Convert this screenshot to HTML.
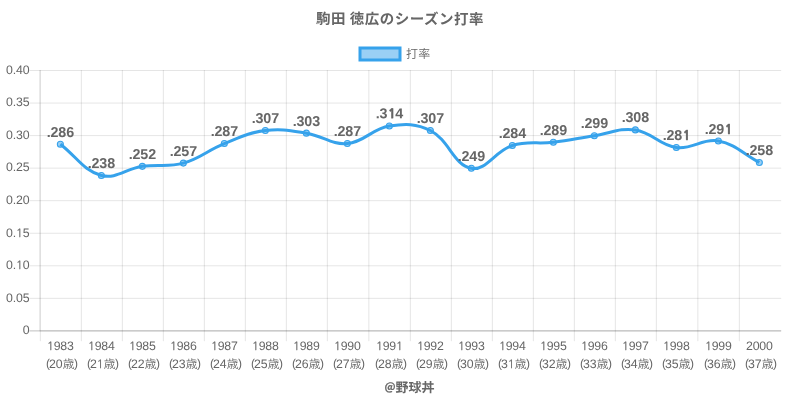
<!DOCTYPE html>
<html lang="ja"><head><meta charset="utf-8"><title>駒田 徳広のシーズン打率</title>
<style>
html,body{margin:0;padding:0;background:#fff;}
body{width:800px;height:400px;overflow:hidden;}
svg{display:block;font-family:"Liberation Sans","Noto Sans CJK JP",sans-serif;}
text{fill:#666;}
.t{font-size:12.3px;letter-spacing:-0.17px;}
.p{font-size:12px;letter-spacing:0;}
.k{font-size:11.8px;font-weight:350;letter-spacing:0;}
.dl{font-size:14.3px;font-weight:bold;letter-spacing:-0.17px;}
.b{font-weight:bold;}
.o{font-family:"NanumGothic","Liberation Sans",sans-serif;font-size:11.3px;font-weight:400;letter-spacing:0;stroke:#666;stroke-width:0.2px;}
.ob{font-family:"NanumGothic","Liberation Sans",sans-serif;font-size:13px;font-weight:800;letter-spacing:0;stroke:#666;stroke-width:0.3px;}
.at{font-family:"Noto Sans CJK JP","Liberation Sans",sans-serif;font-size:11px;font-weight:bold;stroke:#666;stroke-width:0.2px;}
</style></head><body>
<svg width="800" height="400" viewBox="0 0 800 400">
<rect width="800" height="400" fill="#fff"/>
<!-- title -->
<text transform="translate(400.1 24) matrix(1 0.003 0 1 0 0)" class="b" text-anchor="middle" style="font-size:14.5px;letter-spacing:0.5px;word-spacing:-0.8px;">駒田 徳広のシーズン打率</text>
<!-- legend -->
<rect x="360" y="48" width="40" height="12" fill="rgba(54,162,235,0.5)" stroke="rgb(54,162,235)" stroke-width="3"/>
<text transform="translate(406.1 58) matrix(1 0.003 0 1 0 0)" style="font-size:12px;font-weight:350;letter-spacing:0.1px;">打率</text>
<!-- grid -->
<g stroke-width="1">
<line x1="29.35" y1="70.50" x2="781.20" y2="70.50" stroke="rgba(0,0,0,0.1)"/>
<line x1="29.35" y1="103.05" x2="781.20" y2="103.05" stroke="rgba(0,0,0,0.1)"/>
<line x1="29.35" y1="135.60" x2="781.20" y2="135.60" stroke="rgba(0,0,0,0.1)"/>
<line x1="29.35" y1="168.15" x2="781.20" y2="168.15" stroke="rgba(0,0,0,0.1)"/>
<line x1="29.35" y1="200.70" x2="781.20" y2="200.70" stroke="rgba(0,0,0,0.1)"/>
<line x1="29.35" y1="233.25" x2="781.20" y2="233.25" stroke="rgba(0,0,0,0.1)"/>
<line x1="29.35" y1="265.80" x2="781.20" y2="265.80" stroke="rgba(0,0,0,0.1)"/>
<line x1="29.35" y1="298.35" x2="781.20" y2="298.35" stroke="rgba(0,0,0,0.1)"/>
<line x1="29.35" y1="330.90" x2="781.20" y2="330.90" stroke="rgba(0,0,0,0.25)"/>
<line x1="40.35" y1="70.00" x2="40.35" y2="341.20" stroke="rgba(0,0,0,0.1)"/>
<line x1="81.35" y1="70.00" x2="81.35" y2="341.20" stroke="rgba(0,0,0,0.1)"/>
<line x1="122.35" y1="70.00" x2="122.35" y2="341.20" stroke="rgba(0,0,0,0.1)"/>
<line x1="163.35" y1="70.00" x2="163.35" y2="341.20" stroke="rgba(0,0,0,0.1)"/>
<line x1="204.35" y1="70.00" x2="204.35" y2="341.20" stroke="rgba(0,0,0,0.1)"/>
<line x1="245.35" y1="70.00" x2="245.35" y2="341.20" stroke="rgba(0,0,0,0.1)"/>
<line x1="286.35" y1="70.00" x2="286.35" y2="341.20" stroke="rgba(0,0,0,0.1)"/>
<line x1="327.35" y1="70.00" x2="327.35" y2="341.20" stroke="rgba(0,0,0,0.1)"/>
<line x1="368.85" y1="70.00" x2="368.85" y2="341.20" stroke="rgba(0,0,0,0.1)"/>
<line x1="410.35" y1="70.00" x2="410.35" y2="341.20" stroke="rgba(0,0,0,0.1)"/>
<line x1="451.35" y1="70.00" x2="451.35" y2="341.20" stroke="rgba(0,0,0,0.1)"/>
<line x1="492.35" y1="70.00" x2="492.35" y2="341.20" stroke="rgba(0,0,0,0.1)"/>
<line x1="533.35" y1="70.00" x2="533.35" y2="341.20" stroke="rgba(0,0,0,0.1)"/>
<line x1="574.35" y1="70.00" x2="574.35" y2="341.20" stroke="rgba(0,0,0,0.1)"/>
<line x1="615.35" y1="70.00" x2="615.35" y2="341.20" stroke="rgba(0,0,0,0.1)"/>
<line x1="656.35" y1="70.00" x2="656.35" y2="341.20" stroke="rgba(0,0,0,0.1)"/>
<line x1="697.85" y1="70.00" x2="697.85" y2="341.20" stroke="rgba(0,0,0,0.1)"/>
<line x1="739.35" y1="70.00" x2="739.35" y2="341.20" stroke="rgba(0,0,0,0.1)"/>
<line x1="39.85" y1="70.00" x2="39.85" y2="330.40" stroke="rgba(0,0,0,0.1)"/>
<line x1="39.35" y1="330.90" x2="781.20" y2="330.90" stroke="rgba(0,0,0,0.1)"/>
</g>
<!-- y axis labels -->
<text transform="translate(29.35 74) matrix(1 0.003 0 1 0 0)" class="t" text-anchor="end">0.40</text>
<text transform="translate(29.35 106) matrix(1 0.003 0 1 0 0)" class="t" text-anchor="end">0.35</text>
<text transform="translate(29.35 139) matrix(1 0.003 0 1 0 0)" class="t" text-anchor="end">0.30</text>
<text transform="translate(29.35 171) matrix(1 0.003 0 1 0 0)" class="t" text-anchor="end">0.25</text>
<text transform="translate(29.35 204) matrix(1 0.003 0 1 0 0)" class="t" text-anchor="end">0.20</text>
<text transform="translate(29.35 237) matrix(1 0.003 0 1 0 0)" class="t" text-anchor="end">0.<tspan class="o">1</tspan><tspan dx="-0.18">5</tspan></text>
<text transform="translate(29.35 269) matrix(1 0.003 0 1 0 0)" class="t" text-anchor="end">0.<tspan class="o">1</tspan><tspan dx="-0.18">0</tspan></text>
<text transform="translate(29.35 302) matrix(1 0.003 0 1 0 0)" class="t" text-anchor="end">0.05</text>
<text transform="translate(29.35 334) matrix(1 0.003 0 1 0 0)" class="t" text-anchor="end">0</text>
<!-- x axis labels -->
<text transform="translate(60.35 350) matrix(1 0.003 0 1 0 0)" class="t" text-anchor="middle"><tspan class="o">1</tspan><tspan dx="-0.18">9</tspan>83</text>
<text transform="translate(45.88 368) matrix(1 0.003 0 1 0 0)" class="t"><tspan class="p" dy="-0.6">(</tspan><tspan dx="-0.8" dy="0.6">20</tspan><tspan class="k" dx="0.35">歳</tspan><tspan class="p" dx="-0.6" dy="-0.6">)</tspan></text>
<text transform="translate(101.35 350) matrix(1 0.003 0 1 0 0)" class="t" text-anchor="middle"><tspan class="o">1</tspan><tspan dx="-0.18">9</tspan>84</text>
<text transform="translate(86.88 368) matrix(1 0.003 0 1 0 0)" class="t"><tspan class="p" dy="-0.6">(</tspan><tspan dx="-0.8" dy="0.6">2<tspan class="o">1</tspan></tspan><tspan class="k" dx="0.17">歳</tspan><tspan class="p" dx="-0.6" dy="-0.6">)</tspan></text>
<text transform="translate(142.35 350) matrix(1 0.003 0 1 0 0)" class="t" text-anchor="middle"><tspan class="o">1</tspan><tspan dx="-0.18">9</tspan>85</text>
<text transform="translate(127.88 368) matrix(1 0.003 0 1 0 0)" class="t"><tspan class="p" dy="-0.6">(</tspan><tspan dx="-0.8" dy="0.6">22</tspan><tspan class="k" dx="0.35">歳</tspan><tspan class="p" dx="-0.6" dy="-0.6">)</tspan></text>
<text transform="translate(183.35 350) matrix(1 0.003 0 1 0 0)" class="t" text-anchor="middle"><tspan class="o">1</tspan><tspan dx="-0.18">9</tspan>86</text>
<text transform="translate(168.88 368) matrix(1 0.003 0 1 0 0)" class="t"><tspan class="p" dy="-0.6">(</tspan><tspan dx="-0.8" dy="0.6">23</tspan><tspan class="k" dx="0.35">歳</tspan><tspan class="p" dx="-0.6" dy="-0.6">)</tspan></text>
<text transform="translate(224.35 350) matrix(1 0.003 0 1 0 0)" class="t" text-anchor="middle"><tspan class="o">1</tspan><tspan dx="-0.18">9</tspan>87</text>
<text transform="translate(209.88 368) matrix(1 0.003 0 1 0 0)" class="t"><tspan class="p" dy="-0.6">(</tspan><tspan dx="-0.8" dy="0.6">24</tspan><tspan class="k" dx="0.35">歳</tspan><tspan class="p" dx="-0.6" dy="-0.6">)</tspan></text>
<text transform="translate(265.35 350) matrix(1 0.003 0 1 0 0)" class="t" text-anchor="middle"><tspan class="o">1</tspan><tspan dx="-0.18">9</tspan>88</text>
<text transform="translate(250.88 368) matrix(1 0.003 0 1 0 0)" class="t"><tspan class="p" dy="-0.6">(</tspan><tspan dx="-0.8" dy="0.6">25</tspan><tspan class="k" dx="0.35">歳</tspan><tspan class="p" dx="-0.6" dy="-0.6">)</tspan></text>
<text transform="translate(306.35 350) matrix(1 0.003 0 1 0 0)" class="t" text-anchor="middle"><tspan class="o">1</tspan><tspan dx="-0.18">9</tspan>89</text>
<text transform="translate(291.88 368) matrix(1 0.003 0 1 0 0)" class="t"><tspan class="p" dy="-0.6">(</tspan><tspan dx="-0.8" dy="0.6">26</tspan><tspan class="k" dx="0.35">歳</tspan><tspan class="p" dx="-0.6" dy="-0.6">)</tspan></text>
<text transform="translate(347.35 350) matrix(1 0.003 0 1 0 0)" class="t" text-anchor="middle"><tspan class="o">1</tspan><tspan dx="-0.18">9</tspan>90</text>
<text transform="translate(332.88 368) matrix(1 0.003 0 1 0 0)" class="t"><tspan class="p" dy="-0.6">(</tspan><tspan dx="-0.8" dy="0.6">27</tspan><tspan class="k" dx="0.35">歳</tspan><tspan class="p" dx="-0.6" dy="-0.6">)</tspan></text>
<text transform="translate(389.44 350) matrix(1 0.003 0 1 0 0)" class="t" text-anchor="middle"><tspan class="o">1</tspan><tspan dx="-0.18">9</tspan>9<tspan class="o">1</tspan></text>
<text transform="translate(374.88 368) matrix(1 0.003 0 1 0 0)" class="t"><tspan class="p" dy="-0.6">(</tspan><tspan dx="-0.8" dy="0.6">28</tspan><tspan class="k" dx="0.35">歳</tspan><tspan class="p" dx="-0.6" dy="-0.6">)</tspan></text>
<text transform="translate(430.35 350) matrix(1 0.003 0 1 0 0)" class="t" text-anchor="middle"><tspan class="o">1</tspan><tspan dx="-0.18">9</tspan>92</text>
<text transform="translate(415.88 368) matrix(1 0.003 0 1 0 0)" class="t"><tspan class="p" dy="-0.6">(</tspan><tspan dx="-0.8" dy="0.6">29</tspan><tspan class="k" dx="0.35">歳</tspan><tspan class="p" dx="-0.6" dy="-0.6">)</tspan></text>
<text transform="translate(471.35 350) matrix(1 0.003 0 1 0 0)" class="t" text-anchor="middle"><tspan class="o">1</tspan><tspan dx="-0.18">9</tspan>93</text>
<text transform="translate(456.88 368) matrix(1 0.003 0 1 0 0)" class="t"><tspan class="p" dy="-0.6">(</tspan><tspan dx="-0.8" dy="0.6">30</tspan><tspan class="k" dx="0.35">歳</tspan><tspan class="p" dx="-0.6" dy="-0.6">)</tspan></text>
<text transform="translate(512.35 350) matrix(1 0.003 0 1 0 0)" class="t" text-anchor="middle"><tspan class="o">1</tspan><tspan dx="-0.18">9</tspan>94</text>
<text transform="translate(497.88 368) matrix(1 0.003 0 1 0 0)" class="t"><tspan class="p" dy="-0.6">(</tspan><tspan dx="-0.8" dy="0.6">3<tspan class="o">1</tspan></tspan><tspan class="k" dx="0.17">歳</tspan><tspan class="p" dx="-0.6" dy="-0.6">)</tspan></text>
<text transform="translate(553.35 350) matrix(1 0.003 0 1 0 0)" class="t" text-anchor="middle"><tspan class="o">1</tspan><tspan dx="-0.18">9</tspan>95</text>
<text transform="translate(538.88 368) matrix(1 0.003 0 1 0 0)" class="t"><tspan class="p" dy="-0.6">(</tspan><tspan dx="-0.8" dy="0.6">32</tspan><tspan class="k" dx="0.35">歳</tspan><tspan class="p" dx="-0.6" dy="-0.6">)</tspan></text>
<text transform="translate(594.35 350) matrix(1 0.003 0 1 0 0)" class="t" text-anchor="middle"><tspan class="o">1</tspan><tspan dx="-0.18">9</tspan>96</text>
<text transform="translate(579.88 368) matrix(1 0.003 0 1 0 0)" class="t"><tspan class="p" dy="-0.6">(</tspan><tspan dx="-0.8" dy="0.6">33</tspan><tspan class="k" dx="0.35">歳</tspan><tspan class="p" dx="-0.6" dy="-0.6">)</tspan></text>
<text transform="translate(635.35 350) matrix(1 0.003 0 1 0 0)" class="t" text-anchor="middle"><tspan class="o">1</tspan><tspan dx="-0.18">9</tspan>97</text>
<text transform="translate(620.88 368) matrix(1 0.003 0 1 0 0)" class="t"><tspan class="p" dy="-0.6">(</tspan><tspan dx="-0.8" dy="0.6">34</tspan><tspan class="k" dx="0.35">歳</tspan><tspan class="p" dx="-0.6" dy="-0.6">)</tspan></text>
<text transform="translate(676.35 350) matrix(1 0.003 0 1 0 0)" class="t" text-anchor="middle"><tspan class="o">1</tspan><tspan dx="-0.18">9</tspan>98</text>
<text transform="translate(661.88 368) matrix(1 0.003 0 1 0 0)" class="t"><tspan class="p" dy="-0.6">(</tspan><tspan dx="-0.8" dy="0.6">35</tspan><tspan class="k" dx="0.35">歳</tspan><tspan class="p" dx="-0.6" dy="-0.6">)</tspan></text>
<text transform="translate(718.35 350) matrix(1 0.003 0 1 0 0)" class="t" text-anchor="middle"><tspan class="o">1</tspan><tspan dx="-0.18">9</tspan>99</text>
<text transform="translate(703.88 368) matrix(1 0.003 0 1 0 0)" class="t"><tspan class="p" dy="-0.6">(</tspan><tspan dx="-0.8" dy="0.6">36</tspan><tspan class="k" dx="0.35">歳</tspan><tspan class="p" dx="-0.6" dy="-0.6">)</tspan></text>
<text transform="translate(759.35 350) matrix(1 0.003 0 1 0 0)" class="t" text-anchor="middle">2000</text>
<text transform="translate(744.88 368) matrix(1 0.003 0 1 0 0)" class="t"><tspan class="p" dy="-0.6">(</tspan><tspan dx="-0.8" dy="0.6">37</tspan><tspan class="k" dx="0.35">歳</tspan><tspan class="p" dx="-0.6" dy="-0.6">)</tspan></text>
<!-- x axis title -->
<text transform="translate(384.5 390.4) matrix(1 0.003 0 1 0 0)" class="at">@</text>
<text transform="translate(395.5 392) matrix(1 0.003 0 1 0 0)" class="b" style="font-size:13px;">野球丼</text>
<!-- line + points -->
<path d="M60.35 144.21 C76.75 156.71 83.28 170.58 101.35 175.46 C116.08 179.44 125.78 168.85 142.35 166.35 C158.58 163.90 167.76 167.42 183.35 163.09 C200.56 158.31 207.51 150.25 224.35 143.56 C240.31 137.23 248.57 132.67 265.35 130.54 C281.37 128.51 290.19 130.58 306.35 133.15 C322.99 135.79 331.36 144.94 347.35 143.56 C364.56 142.08 371.93 128.72 389.35 125.99 C405.13 123.51 416.40 123.34 430.35 130.54 C449.20 140.27 453.54 165.05 471.35 168.30 C486.34 171.04 494.87 151.07 512.35 145.52 C527.67 140.65 537.03 144.20 553.35 142.26 C569.83 140.30 577.93 138.23 594.35 135.75 C610.73 133.28 619.56 127.64 635.35 129.89 C652.36 132.32 659.35 145.20 676.35 147.47 C692.55 149.63 702.46 138.09 718.35 140.96 C735.66 144.08 742.95 153.85 759.35 162.44" fill="none" stroke="rgb(54,162,235)" stroke-width="3" stroke-linejoin="miter" stroke-linecap="butt"/>
<circle cx="60.35" cy="144.21" r="3" fill="rgba(54,162,235,0.5)" stroke="rgb(54,162,235)" stroke-width="1.1"/>
<circle cx="101.35" cy="175.46" r="3" fill="rgba(54,162,235,0.5)" stroke="rgb(54,162,235)" stroke-width="1.1"/>
<circle cx="142.35" cy="166.35" r="3" fill="rgba(54,162,235,0.5)" stroke="rgb(54,162,235)" stroke-width="1.1"/>
<circle cx="183.35" cy="163.09" r="3" fill="rgba(54,162,235,0.5)" stroke="rgb(54,162,235)" stroke-width="1.1"/>
<circle cx="224.35" cy="143.56" r="3" fill="rgba(54,162,235,0.5)" stroke="rgb(54,162,235)" stroke-width="1.1"/>
<circle cx="265.35" cy="130.54" r="3" fill="rgba(54,162,235,0.5)" stroke="rgb(54,162,235)" stroke-width="1.1"/>
<circle cx="306.35" cy="133.15" r="3" fill="rgba(54,162,235,0.5)" stroke="rgb(54,162,235)" stroke-width="1.1"/>
<circle cx="347.35" cy="143.56" r="3" fill="rgba(54,162,235,0.5)" stroke="rgb(54,162,235)" stroke-width="1.1"/>
<circle cx="389.35" cy="125.99" r="3" fill="rgba(54,162,235,0.5)" stroke="rgb(54,162,235)" stroke-width="1.1"/>
<circle cx="430.35" cy="130.54" r="3" fill="rgba(54,162,235,0.5)" stroke="rgb(54,162,235)" stroke-width="1.1"/>
<circle cx="471.35" cy="168.30" r="3" fill="rgba(54,162,235,0.5)" stroke="rgb(54,162,235)" stroke-width="1.1"/>
<circle cx="512.35" cy="145.52" r="3" fill="rgba(54,162,235,0.5)" stroke="rgb(54,162,235)" stroke-width="1.1"/>
<circle cx="553.35" cy="142.26" r="3" fill="rgba(54,162,235,0.5)" stroke="rgb(54,162,235)" stroke-width="1.1"/>
<circle cx="594.35" cy="135.75" r="3" fill="rgba(54,162,235,0.5)" stroke="rgb(54,162,235)" stroke-width="1.1"/>
<circle cx="635.35" cy="129.89" r="3" fill="rgba(54,162,235,0.5)" stroke="rgb(54,162,235)" stroke-width="1.1"/>
<circle cx="676.35" cy="147.47" r="3" fill="rgba(54,162,235,0.5)" stroke="rgb(54,162,235)" stroke-width="1.1"/>
<circle cx="718.35" cy="140.96" r="3" fill="rgba(54,162,235,0.5)" stroke="rgb(54,162,235)" stroke-width="1.1"/>
<circle cx="759.35" cy="162.44" r="3" fill="rgba(54,162,235,0.5)" stroke="rgb(54,162,235)" stroke-width="1.1"/>
<!-- data labels -->
<text transform="translate(60.35 137) matrix(1 0.003 0 1 0 0)" class="dl" text-anchor="middle">.286</text>
<text transform="translate(101.35 168) matrix(1 0.003 0 1 0 0)" class="dl" text-anchor="middle">.238</text>
<text transform="translate(142.35 159) matrix(1 0.003 0 1 0 0)" class="dl" text-anchor="middle">.252</text>
<text transform="translate(183.35 156) matrix(1 0.003 0 1 0 0)" class="dl" text-anchor="middle">.257</text>
<text transform="translate(224.35 136) matrix(1 0.003 0 1 0 0)" class="dl" text-anchor="middle">.287</text>
<text transform="translate(265.35 123) matrix(1 0.003 0 1 0 0)" class="dl" text-anchor="middle">.307</text>
<text transform="translate(306.35 126) matrix(1 0.003 0 1 0 0)" class="dl" text-anchor="middle">.303</text>
<text transform="translate(347.35 136) matrix(1 0.003 0 1 0 0)" class="dl" text-anchor="middle">.287</text>
<text transform="translate(389.35 118.3) matrix(1 0.003 0 1 0 0)" class="dl" text-anchor="middle">.3<tspan class="ob" dx="0.7">1</tspan><tspan dx="-0.79">4</tspan></text>
<text transform="translate(430.35 123) matrix(1 0.003 0 1 0 0)" class="dl" text-anchor="middle">.307</text>
<text transform="translate(471.35 161) matrix(1 0.003 0 1 0 0)" class="dl" text-anchor="middle">.249</text>
<text transform="translate(512.35 138) matrix(1 0.003 0 1 0 0)" class="dl" text-anchor="middle">.284</text>
<text transform="translate(553.35 135) matrix(1 0.003 0 1 0 0)" class="dl" text-anchor="middle">.289</text>
<text transform="translate(594.35 128) matrix(1 0.003 0 1 0 0)" class="dl" text-anchor="middle">.299</text>
<text transform="translate(635.35 122) matrix(1 0.003 0 1 0 0)" class="dl" text-anchor="middle">.308</text>
<text transform="translate(676.75 140) matrix(1 0.003 0 1 0 0)" class="dl" text-anchor="middle">.28<tspan class="ob" dx="0.7">1</tspan></text>
<text transform="translate(718.75 134) matrix(1 0.003 0 1 0 0)" class="dl" text-anchor="middle">.29<tspan class="ob" dx="0.7">1</tspan></text>
<text transform="translate(759.35 155) matrix(1 0.003 0 1 0 0)" class="dl" text-anchor="middle">.258</text>
</svg></body></html>
